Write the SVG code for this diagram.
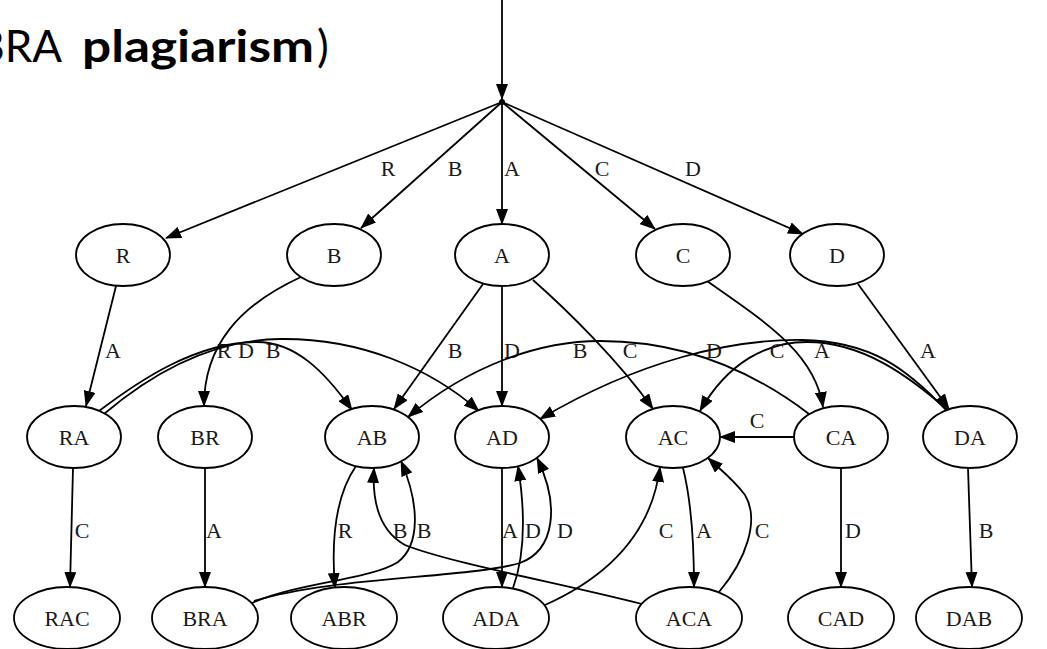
<svg xmlns="http://www.w3.org/2000/svg" width="1047" height="649" viewBox="0 0 1047 649">
  <defs>
    <marker id="arrow" viewBox="0 0 16 12" markerWidth="16" markerHeight="12" refX="15" refY="6" orient="auto" markerUnits="userSpaceOnUse">
      <path d="M0,0 L16,6 L0,12 z" fill="#000"/>
    </marker>
    <style>
      .node ellipse { fill: #fff; stroke: #000; stroke-width: 1.8; }
      .node text { font-family: "Liberation Serif", "Times New Roman", serif; font-size: 22px; text-anchor: middle; fill: #1a1a1a; }
      .edges path { fill: none; stroke: #000; stroke-width: 1.8; marker-end: url(#arrow); }
      .edges text { font-family: "Liberation Serif", "Times New Roman", serif; font-size: 22px; text-anchor: middle; fill: #1a1a1a; }
      .title { font-family: Lato, "Open Sans", sans-serif; font-size: 44px; fill: #000; }
    </style>
  </defs>
  <rect width="1047" height="649" fill="#fff"/>

  <!-- heading, running off the left edge -->
  <g id="title">
    <text class="title" x="62" y="62" text-anchor="end">BRA</text>
    <text class="title" x="82" y="62" font-weight="bold" textLength="232" lengthAdjust="spacingAndGlyphs">plagiarism</text>
    <text class="title" x="317" y="62">)</text>
  </g>

  <!-- transitions -->
  <g class="edges" id="edges">
    <path d="M502,0 L502,99"/>
    <!-- from the start point -->
    <path d="M502,102 L166,238"/>
    <path d="M502,102 L361,228"/>
    <path d="M502,102 L502,224"/>
    <path d="M502,102 L655,229"/>
    <path d="M502,102 L803,234"/>
    <text x="388" y="176">R</text>
    <text x="455" y="176">B</text>
    <text x="512" y="176">A</text>
    <text x="602" y="176">C</text>
    <text x="693" y="176">D</text>

    <!-- single letters to pairs -->
    <path d="M116,286 L86,406"/>
    <path d="M301,277 C240,305 204,345 204,406"/>
    <path d="M483,284 L394,409"/>
    <path d="M502,286 L502,406"/>
    <path d="M533,280 C567,310 618,360 653,409"/>
    <path d="M707,281 C762,320 815,352 823,407"/>
    <path d="M858,284 L949,409"/>
    <text x="113" y="358">A</text>
    <text x="224" y="358">R</text>
    <text x="455" y="358">B</text>
    <text x="512" y="358">D</text>
    <text x="630" y="358">C</text>
    <text x="822" y="358">A</text>
    <text x="928" y="358">A</text>

    <!-- pairs to pairs -->
    <path d="M99,411 C140,380 195,343 255,342 C295,341 325,372 352,410"/>
    <path d="M104,414 C150,375 210,340 280,339 C360,338 430,368 479,411"/>
    <path d="M809,414 C762,378 692,341 600,341 C540,341 470,365 408,417"/>
    <path d="M946,410 C908,370 872,341 802,340 C732,339 640,360 540,419"/>
    <path d="M950,412 C908,375 862,342 807,342 C767,342 728,362 700,411"/>
    <path d="M794,437 L720,437"/>
    <text x="246" y="358">D</text>
    <text x="273" y="358">B</text>
    <text x="580" y="358">B</text>
    <text x="714" y="358">D</text>
    <text x="777" y="358">C</text>
    <text x="757" y="428">C</text>

    <!-- pairs to triples -->
    <path d="M73,468 L70,587"/>
    <path d="M205,468 L205,587"/>
    <path d="M356,466 C336,495 331,540 335,588"/>
    <path d="M502,468 L502,587"/>
    <path d="M683,468 C691,500 694,540 694,587"/>
    <path d="M841,468 L841,587"/>
    <path d="M968,468 L972,587"/>
    <text x="82" y="538">C</text>
    <text x="214" y="538">A</text>
    <text x="345" y="538">R</text>
    <text x="510" y="538">A</text>
    <text x="704" y="538">A</text>
    <text x="853" y="538">D</text>
    <text x="986" y="538">B</text>

    <!-- triples back to pairs -->
    <path d="M642,604 C560,583 450,563 405,545 C378,530 372,500 374,468"/>
    <path d="M252,603 C300,582 370,580 398,562 C420,545 420,505 401,461"/>
    <path d="M254,601 C330,577 470,578 520,563 C555,550 560,505 537,458"/>
    <path d="M513,588 C525,555 525,510 518,466"/>
    <path d="M545,605 C612,575 652,530 660,467"/>
    <path d="M719,592 C746,560 760,520 745,495 C734,480 721,470 708,458"/>
    <text x="400" y="538">B</text>
    <text x="424" y="538">B</text>
    <text x="533" y="538">D</text>
    <text x="565" y="538">D</text>
    <text x="666" y="538">C</text>
    <text x="762" y="538">C</text>
  </g>

  <!-- start point -->
  <g id="start"><circle cx="502" cy="102" r="3" fill="#000"/></g>

  <!-- states -->
  <g class="node" id="R"><ellipse cx="123" cy="255" rx="47" ry="31"/><text x="123" y="263">R</text></g>
  <g class="node" id="B"><ellipse cx="334" cy="255" rx="47" ry="31"/><text x="334" y="263">B</text></g>
  <g class="node" id="A"><ellipse cx="502" cy="255" rx="47" ry="31"/><text x="502" y="263">A</text></g>
  <g class="node" id="C"><ellipse cx="683" cy="255" rx="47" ry="31"/><text x="683" y="263">C</text></g>
  <g class="node" id="D"><ellipse cx="837" cy="255" rx="47" ry="31"/><text x="837" y="263">D</text></g>

  <g class="node" id="RA"><ellipse cx="74" cy="437" rx="47" ry="31"/><text x="74" y="445">RA</text></g>
  <g class="node" id="BR"><ellipse cx="205" cy="437" rx="47" ry="31"/><text x="205" y="445">BR</text></g>
  <g class="node" id="AB"><ellipse cx="372" cy="437" rx="47" ry="31"/><text x="372" y="445">AB</text></g>
  <g class="node" id="AD"><ellipse cx="502" cy="437" rx="47" ry="31"/><text x="502" y="445">AD</text></g>
  <g class="node" id="AC"><ellipse cx="673" cy="437" rx="47" ry="31"/><text x="673" y="445">AC</text></g>
  <g class="node" id="CA"><ellipse cx="841" cy="437" rx="47" ry="31"/><text x="841" y="445">CA</text></g>
  <g class="node" id="DA"><ellipse cx="970" cy="437" rx="47" ry="31"/><text x="970" y="445">DA</text></g>

  <g class="node" id="RAC"><ellipse cx="67" cy="618" rx="53" ry="31"/><text x="67" y="626">RAC</text></g>
  <g class="node" id="BRA"><ellipse cx="205" cy="618" rx="53" ry="31"/><text x="205" y="626">BRA</text></g>
  <g class="node" id="ABR"><ellipse cx="344" cy="618" rx="53" ry="31"/><text x="344" y="626">ABR</text></g>
  <g class="node" id="ADA"><ellipse cx="496" cy="618" rx="53" ry="31"/><text x="496" y="626">ADA</text></g>
  <g class="node" id="ACA"><ellipse cx="689" cy="618" rx="53" ry="31"/><text x="689" y="626">ACA</text></g>
  <g class="node" id="CAD"><ellipse cx="841" cy="618" rx="53" ry="31"/><text x="841" y="626">CAD</text></g>
  <g class="node" id="DAB"><ellipse cx="969" cy="618" rx="53" ry="31"/><text x="969" y="626">DAB</text></g>
</svg>
